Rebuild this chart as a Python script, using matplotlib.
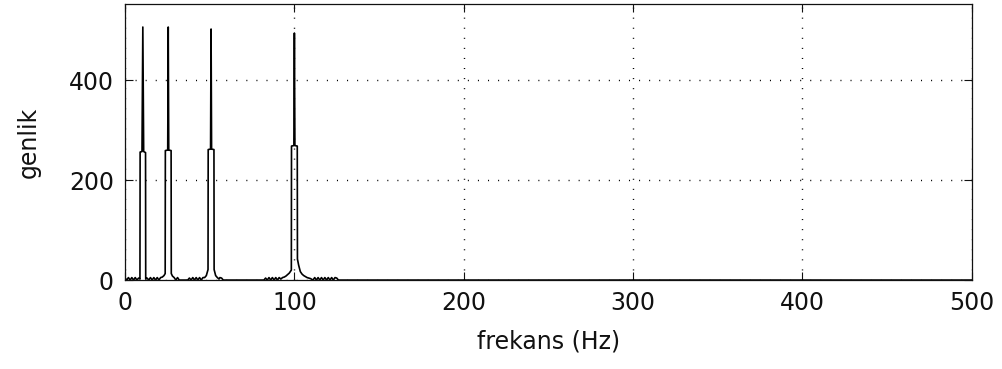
import matplotlib
matplotlib.use("Agg")
import matplotlib.pyplot as plt
import numpy as np

# spectrum, one cluster per tone (10, 25, 50, 100 Hz)
# low "skirt" values on both sides, then the shoulder / peak / shoulder of each tone
c1_f = [0, 1, 2, 3, 4, 5, 6, 7, 8, 8.8, 8.9, 10.0, 10.5, 11.0, 12.1, 12.2, 13, 14]
c1_a = [4, 0, 5, 0, 5, 0, 5, 0, 4, 2, 256, 257, 506, 257, 255, 2, 4, 0]

c2_f = [15, 16, 17, 18, 19, 20, 21, 22, 23, 23.7, 23.8, 25.2, 25.5, 25.8, 27.2, 27.3,
        28, 29, 30, 31, 32, 33]
c2_a = [5, 0, 5, 0, 5, 0, 5, 6, 9, 13, 259, 260, 506, 260, 259, 13,
        8, 5, 0, 5, 0, 0]

c3_f = [37, 38, 39, 40, 41, 42, 43, 44, 45, 46, 47, 48,
        49.0, 49.1, 50.5, 50.8, 51.1, 52.5, 52.6, 53.5, 54.5, 55.5, 56, 57, 58]
c3_a = [0, 4, 0, 5, 0, 5, 0, 5, 0, 5, 5, 9,
        21, 261, 262, 502, 262, 261, 21, 9, 5, 2, 5, 4, 0]

c4_f = [82, 83, 84, 85, 86, 87, 88, 89, 90, 91, 92, 93, 94, 95, 96, 97, 98.2,
        98.3, 99.7, 100, 100.3, 101.7, 101.8, 102.5, 103.5, 104.5, 105.5, 106.5, 107.5,
        108.5, 109.5, 111, 112, 113, 114, 115, 116, 117, 118, 119, 120, 121, 122, 123,
        124, 125, 126]
c4_a = [0, 4, 0, 5, 0, 5, 0, 5, 0, 5, 2, 5, 6, 8, 11, 14, 20,
        268, 269, 494, 269, 268, 42, 30, 17, 12, 9, 7, 5,
        4, 3, 0, 5, 0, 5, 0, 5, 0, 5, 0, 5, 0, 5, 0,
        5, 4, 0]

tail_f = [127, 500]
tail_a = [0, 0]

freq = np.concatenate([c1_f, c2_f, c3_f, c4_f, tail_f])
amp = np.concatenate([c1_a, c2_a, c3_a, c4_a, tail_a])

xticks = [0, 100, 200, 300, 400, 500]
yticks = [0, 200, 400]

plt.rcParams["font.family"] = ["DejaVu Sans"]
fig = plt.figure(figsize=(10.02, 3.69), dpi=100)
ax = fig.add_axes([0.1248, 0.241, 0.845, 0.748])
ax.plot(freq, amp, color="black", lw=1.2)

ax.set_xlim(0, 500)
ax.set_ylim(0, 552)
ax.set_xticks(xticks)
ax.set_yticks(yticks)
ax.grid(True, color="black", lw=1.0, ls=(0, (0.75, 6.5)))
ax.tick_params(direction="in", length=6, width=0.8, labelsize=17, colors="#111111",
               top=True, right=True, pad=8)
for s in ax.spines.values():
    s.set_linewidth(0.9)
    s.set_color("#111111")

ax.set_xlabel("frekans (Hz)", fontsize=17, labelpad=10, color="#111111")
ax.set_ylabel("genlik", fontsize=17, labelpad=20, color="#111111")

fig.savefig("out.png", dpi=100)
